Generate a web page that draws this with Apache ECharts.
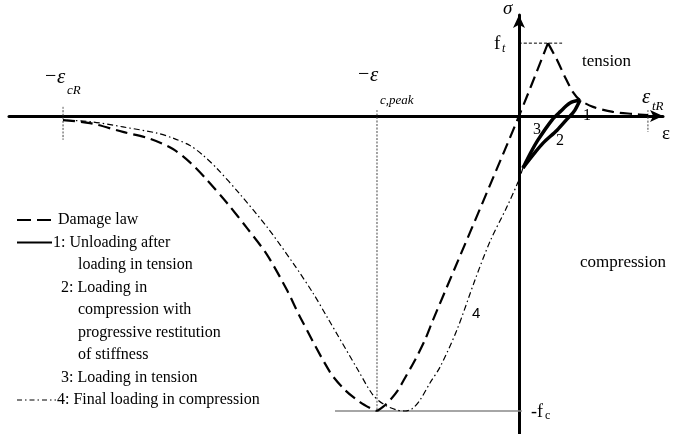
<!DOCTYPE html>
<html>
<head>
<meta charset="utf-8">
<title>Concrete damage law with unilateral effect</title>
<script src="https://cdn.jsdelivr.net/npm/echarts@6/dist/echarts.min.js"></script>
<style>
  html, body { margin: 0; padding: 0; background: #fff; }
  #main { width: 673px; height: 434px; }
</style>
</head>
<body>
<div id="main"></div>
<script>
// Strain is normalised by the peak compressive strain, stress by f_c.
const EPS_CR = -3.211;     // ultimate compressive strain (-ε_cR)
const EPS_PEAK = -1;       // strain at peak compressive stress (-ε_c,peak)
const EPS_TR = 0.908;      // ultimate tensile strain (ε_tR)
const FT = 0.247;          // tensile strength f_t
const FC = 1;              // compressive strength f_c

// Visible axis extent
const X_MIN = -3.5915, X_MAX = 1.0141;
const Y_MIN = -1.078, Y_MAX = 0.3424;

// Damage law envelope, compression side (from -ε_cR to the peak)
const damageCompression = [
  [-3.211, -0.014], [-3.021, -0.024], [-2.789, -0.054], [-2.599, -0.077],
  [-2.437, -0.112], [-2.317, -0.157], [-2.197, -0.217], [-2.056, -0.295],
  [-1.915, -0.380], [-1.775, -0.470], [-1.634, -0.590], [-1.542, -0.681],
  [-1.331, -0.868], [-1.225, -0.929], [-1.120, -0.970], [-1.049, -0.990],
  [-1, -1]
];
// Damage law from the compressive peak through the origin up to f_t
const damageElastic = [
  [-1, -1], [-0.958, -0.986], [-0.908, -0.963], [-0.852, -0.929],
  [-0.803, -0.888], [-0.732, -0.827], [-0.662, -0.759], [-0.606, -0.692],
  [0, 0], [0.204, 0.247]
];
// Tension softening branch
const damageTension = [
  [0.204, 0.247], [0.268, 0.190], [0.324, 0.132], [0.380, 0.081],
  [0.430, 0.054], [0.521, 0.031], [0.662, 0.014], [0.803, 0.007],
  [0.908, 0.003]
];
// 1: unloading after loading in tension
const unloading1 = [[0.430, 0.054], [0.394, 0.020], [0.360, 0]];
// 2: loading in compression with progressive restitution of stiffness
const compression2 = [[0.360, 0], [0.345, -0.007], [0.268, -0.048], [0.169, -0.092], [0.099, -0.132], [0.028, -0.176]];
// 3: reloading in tension
const tension3 = [[0.028, -0.176], [0.085, -0.122], [0.134, -0.081], [0.232, -0.014], [0.289, 0.014], [0.359, 0.044], [0.430, 0.054]];
// 4: final loading in compression
const finalCompression = [
  [0.028, -0.176], [-0.007, -0.224], [-0.085, -0.308], [-0.204, -0.425],
  [-0.310, -0.556], [-0.437, -0.725], [-0.556, -0.851], [-0.627, -0.905],
  [-0.697, -0.963], [-0.754, -0.993], [-0.803, -1], [-0.859, -0.997],
  [-0.944, -0.980], [-1.028, -0.946], [-1.134, -0.861], [-1.352, -0.681],
  [-1.451, -0.600], [-1.592, -0.498], [-1.775, -0.376], [-1.965, -0.265],
  [-2.127, -0.178], [-2.225, -0.133], [-2.317, -0.100], [-2.437, -0.075],
  [-2.549, -0.058], [-2.789, -0.037], [-3.021, -0.019], [-3.211, -0.014]
];

// Legend entries (text lines, indent, marker style)
const legendRows = [
  { text: 'Damage law', x: 58, marker: 'dash' },
  { text: '1: Unloading after', x: 53, marker: 'solid' },
  { text: 'loading in tension', x: 78 },
  { text: '2: Loading in', x: 61 },
  { text: 'compression with', x: 78 },
  { text: 'progressive restitution', x: 78 },
  { text: 'of stiffness', x: 78 },
  { text: '3: Loading in tension', x: 61 },
  { text: '4: Final loading in compression', x: 57, marker: 'dashdot' }
];

const SERIF = '"Liberation Serif", "DejaVu Serif", serif';
const DASH = [12, 6];
const DASHDOT = [6, 3, 1.5, 3];

const chart = echarts.init(document.getElementById('main'));

function curve(data, width, type, color) {
  return {
    type: 'line', data: data, showSymbol: false, smooth: 0.3,
    lineStyle: { color: color || '#000', width: width, type: type },
    silent: true, z: 3
  };
}

const axisLine = { onZero: true, symbol: ['none', 'arrow'], symbolSize: [9, 13], lineStyle: { color: '#000', width: 3 } };

chart.setOption({
  animation: false,
  grid: { left: 9, right: 10, top: 15, bottom: 0, containLabel: false },
  xAxis: {
    type: 'value', min: X_MIN, max: X_MAX, axisLine: axisLine,
    axisTick: { show: false }, axisLabel: { show: false }, splitLine: { show: false }
  },
  yAxis: {
    type: 'value', min: Y_MIN, max: Y_MAX, axisLine: axisLine,
    axisTick: { show: false }, axisLabel: { show: false }, splitLine: { show: false }
  },
  series: [
    // reference lines
    curve([[-1.296, -FC], [0.02, -FC]], 1.5, 'solid', '#888'),
    curve([[0, FT], [0.31, FT]], 1, [3, 2]),
    curve([[EPS_PEAK, 0.02], [EPS_PEAK, -FC]], 1, [2, 1.5], '#444'),
    curve([[EPS_CR, 0.031], [EPS_CR, -0.081]], 1, [2, 1.5], '#444'),
    curve([[EPS_TR, 0.02], [EPS_TR, -0.054]], 1, [2, 1.5], '#444'),
    // damage law
    curve(damageCompression, 2.2, DASH),
    curve(damageElastic, 2.2, DASH),
    curve(damageTension, 2.2, DASH),
    // loading path
    curve(finalCompression, 1.2, DASHDOT),
    curve(unloading1, 3.5, 'solid'),
    curve(compression2, 3.5, 'solid'),
    curve(tension3, 3.5, 'solid')
  ]
});

function px(pt) { return chart.convertToPixel({ gridIndex: 0 }, pt); }
function txt(text, x, y, font, align) {
  return {
    type: 'text', x: x, y: y, silent: true, z: 10,
    style: { text: text, font: font, fill: '#000', align: align || 'left', verticalAlign: 'middle',
             textAlign: align || 'left', textVerticalAlign: 'middle' }
  };
}

const g = [];
const pO = px([0, 0]);
const pCR = px([EPS_CR, 0]);
const pPK = px([EPS_PEAK, 0]);
const pTR = px([EPS_TR, 0]);
const pFT = px([0, FT]);
const pFC = px([0, -FC]);

// axis names
g.push(txt('σ', pO[0] - 16, 9, 'italic 19px ' + SERIF));
g.push(txt('ε', 662, pO[1] + 18, '19px ' + SERIF));
// f_t and -f_c
g.push(txt('f', pO[0] - 25, pFT[1] + 1, '19px ' + SERIF));
g.push(txt('t', pO[0] - 17, pFT[1] + 6, 'italic 12px ' + SERIF));
g.push(txt('-f', pFC[0] + 12, pFC[1] + 1, '18px ' + SERIF));
g.push(txt('c', pFC[0] + 26, pFC[1] + 5, '12px ' + SERIF));
// strain markers
g.push(txt('−', pCR[0] - 18, pCR[1] - 39, '20px ' + SERIF));
g.push(txt('ε', pCR[0] - 6, pCR[1] - 39, 'italic 21px ' + SERIF));
g.push(txt('cR', pCR[0] + 4, pCR[1] - 25, 'italic 13px ' + SERIF));
g.push(txt('−', pPK[0] - 19, pPK[1] - 41, '20px ' + SERIF));
g.push(txt('ε', pPK[0] - 7, pPK[1] - 41, 'italic 21px ' + SERIF));
g.push(txt('c,peak', pPK[0] + 3, pPK[1] - 15, 'italic 13px ' + SERIF));
g.push(txt('ε', pTR[0] - 6, pTR[1] - 19, 'italic 21px ' + SERIF));
g.push(txt('tR', pTR[0] + 4, pTR[1] - 9, 'italic 13px ' + SERIF));
// region names
g.push(txt('tension', 582, 62, '17px ' + SERIF));
g.push(txt('compression', 580, 263, '17px ' + SERIF));
// path numbers
g.push(txt('1', 583, 116, '16px ' + SERIF));
g.push(txt('2', 556, 141, '16px ' + SERIF));
g.push(txt('3', 533, 130, '16px ' + SERIF));
g.push(txt('4', 472, 314, '15px "Liberation Sans", Arial, sans-serif'));

// legend
legendRows.forEach(function (row, i) {
  const y = 220 + i * 22.5;
  g.push(txt(row.text, row.x, y, '16px ' + SERIF));
  if (row.marker) {
    const end = row.x - 1;
    const dash = row.marker === 'dash' ? [14, 6] : row.marker === 'dashdot' ? [5, 3, 1.5, 3] : null;
    g.push({
      type: 'line', silent: true, z: 10,
      shape: { x1: 17, y1: y, x2: end, y2: y },
      style: { stroke: '#000', lineWidth: row.marker === 'dashdot' ? 1.2 : 2, lineDash: dash }
    });
  }
});

chart.setOption({ graphic: g });
</script>
</body>
</html>
